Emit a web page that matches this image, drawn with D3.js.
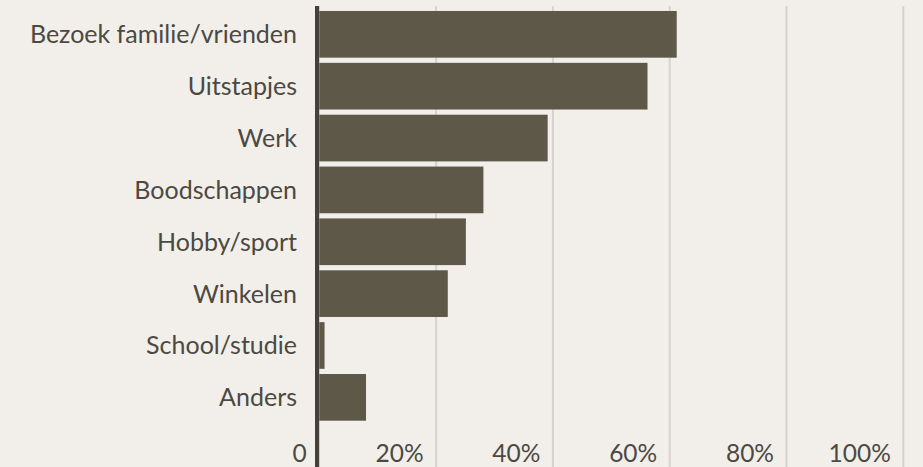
<!DOCTYPE html>
<html>
<head>
<meta charset="utf-8">
<title>Reisdoelen</title>
<script src="https://cdn.jsdelivr.net/npm/d3@7"></script>
<style>
  html, body { margin: 0; padding: 0; background: #f2efea; }
  svg { display: block; }
  text { font-family: Lato, "Open Sans", sans-serif; fill: #4c4942; }
</style>
</head>
<body>
<svg width="923" height="467"></svg>
<script>

var categories = ["Bezoek familie/vrienden", "Uitstapjes", "Werk", "Boodschappen",
                  "Hobby/sport", "Winkelen", "School/studie", "Anders"];
var values = [61.2, 56.2, 39.1, 28.1, 25.1, 22.0, 0.9, 8.0];
var ticks = [0, 20, 40, 60, 80, 100];
var tickLabels = ["0", "20%", "40%", "60%", "80%", "100%"];

var svg = d3.select("svg"),
    width = +svg.attr("width"),
    height = +svg.attr("height");

var x = d3.scaleLinear().domain([0, 100]).range([319.3, 903.3]);

var y = d3.scaleBand()
    .domain(categories)
    .range([8.4, 8.4 + 8 * 51.86])
    .paddingInner(0.1)
    .paddingOuter(0.05);

var data = categories.map(function(c, i) { return { cat: c, value: values[i] }; });

// gridlines
svg.append("g")
    .selectAll("line")
    .data(ticks.slice(1))
    .enter().append("line")
    .attr("x1", function(d) { return x(d); })
    .attr("x2", function(d) { return x(d); })
    .attr("y1", 6)
    .attr("y2", height)
    .attr("stroke", "#d6d3ce")
    .attr("stroke-width", 2);

// bars
svg.append("g")
    .selectAll("rect")
    .data(data)
    .enter().append("rect")
    .attr("x", x(0))
    .attr("y", function(d) { return y(d.cat); })
    .attr("width", function(d) { return x(d.value) - x(0); })
    .attr("height", y.bandwidth())
    .attr("fill", "#5e5848");

// axis line
svg.append("line")
    .attr("x1", x(0) - 2.2)
    .attr("x2", x(0) - 2.2)
    .attr("y1", 6)
    .attr("y2", height)
    .attr("stroke", "#45413a")
    .attr("stroke-width", 4.2);

// category labels
svg.append("g")
    .selectAll("text")
    .data(data)
    .enter().append("text")
    .attr("x", 297)
    .attr("y", function(d) { return y(d.cat) + y.bandwidth() / 2; })
    .attr("dy", "0.36em")
    .attr("text-anchor", "end")
    .attr("font-size", 25)
    .text(function(d) { return d.cat; });

// tick labels
svg.append("g")
    .selectAll("text")
    .data(ticks)
    .enter().append("text")
    .attr("x", function(d) { return x(d) - 12.5; })
    .attr("y", 462)
    .attr("text-anchor", "end")
    .attr("font-size", 24.5)
    .text(function(d, i) { return tickLabels[i]; });

</script>
</body>
</html>
